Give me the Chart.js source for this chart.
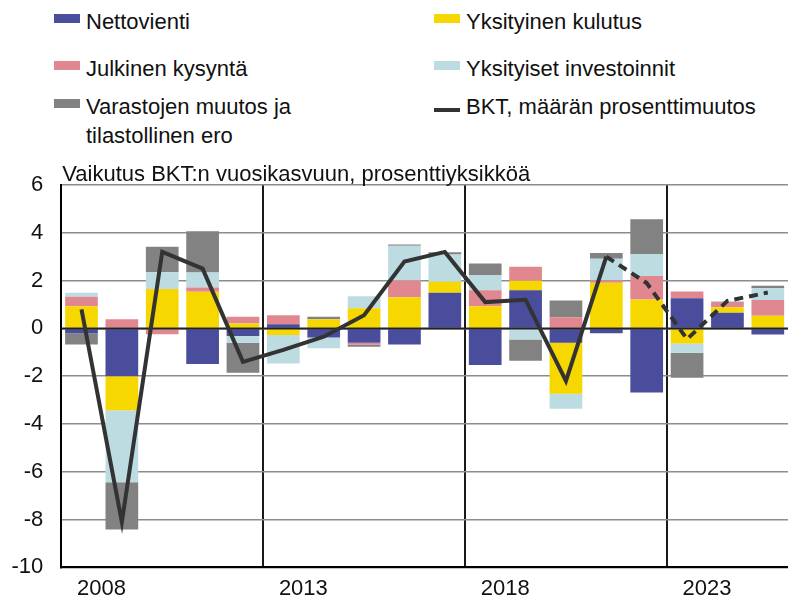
<!DOCTYPE html>
<html lang="fi">
<head>
  <meta charset="UTF-8" />
  <title>BKT:n kasvun osatekijät</title>
  <style>
    body {
      margin: 0;
      background: #fff;
      font-family: 'Liberation Sans', Arial, sans-serif;
    }

    .wrap {
      position: relative;
      width: 788px;
      height: 606px;
    }

    #chart {
      position: absolute;
      left: 0;
      top: 0;
    }

    .legend-text {
      position: absolute;
      font-size: 22px;
      line-height: 29px;
      color: #111;
      white-space: nowrap;
    }

    .swatch {
      position: absolute;
      width: 26px;
      height: 9px;
    }

    .swatch.line {
      height: 4px;
    }
  </style>
</head>
<body>
  <div class="wrap">
    <div id="legend"></div>
    <canvas id="chart" width="788" height="606"></canvas>
  </div>

  <script src="https://cdn.jsdelivr.net/npm/chart.js@4"></script>
  <script>
    // data
    const years = ['2008', '2009', '2010', '2011', '2012', '2013', '2014', '2015', '2016',
                   '2017', '2018', '2019', '2020', '2021', '2022', '2023', '2024', '2025'];
    const nettovienti = [-0.2, -2.0, 0.0, -1.49, -0.32, 0.17, -0.38, -0.6, -0.67,
                         1.49, -1.53, 1.6, -0.6, -0.2, -2.68, 1.26, 0.66, -0.25];
    const kulutus = [0.93, -1.42, 1.65, 1.53, 0.21, -0.28, 0.38, 0.84, 1.3,
                     0.46, 0.93, 0.39, -2.13, 1.91, 1.21, -0.63, 0.22, 0.53];
    const julkinen = [0.39, 0.38, -0.24, 0.18, 0.28, 0.38, 0.0, -0.07, 0.7,
                      0.0, 0.67, 0.59, 0.47, 0.1, 0.98, 0.28, 0.22, 0.66];
    const investoinnit = [0.17, -3.02, 0.7, 0.63, -0.28, -1.19, -0.45, 0.51, 1.46,
                          1.14, 0.63, -0.46, -0.63, 0.9, 0.92, -0.39, 0.05, 0.49];
    const varastot = [-0.47, -1.97, 1.07, 1.73, -1.26, 0.0, 0.11, -0.1, 0.05,
                      0.1, 0.49, -0.89, 0.7, 0.24, 1.46, -1.05, 0.0, 0.1];
    const bkt = [0.8, -8.1, 3.2, 2.5, -1.4, -0.9, -0.35, 0.55, 2.8,
                 3.2, 1.1, 1.2, -2.2, 3.0, 1.9, -0.45, 1.15, 1.5];
    const forecastFrom = 13; // dashed line from 2021 on

    const tickYears = ['2008', '2013', '2018', '2023'];
    const yTicks = [-10, -8, -6, -4, -2, 0, 2, 4, 6];

    const seriesNames = ['Nettovienti', 'Yksityinen kulutus', 'Julkinen kysyntä',
                         'Yksityiset investoinnit', 'Varastojen muutos ja\ntilastollinen ero',
                         'BKT, määrän prosenttimuutos'];
    const seriesColors = ['#4a4c9c', '#f7d700', '#e0878f', '#bcdce2', '#828282', '#333333'];
    const axisTitle = 'Vaikutus BKT:n vuosikasvuun, prosenttiyksikköä';

    const FONT = "'Liberation Sans', Arial, sans-serif";
    Chart.defaults.font.family = FONT;
    Chart.defaults.color = '#111';

    // legend in two columns, row by row
    const legend = document.getElementById('legend');
    const colX = [54, 434];
    const rowCapTop = [13, 60, 98];
    seriesNames.forEach((name, i) => {
      const col = i % 2, row = Math.floor(i / 2);
      const sw = document.createElement('div');
      const isLine = i === seriesNames.length - 1;
      sw.className = 'swatch' + (isLine ? ' line' : '');
      sw.style.left = colX[col] + 'px';
      sw.style.top = (rowCapTop[row] + (isLine ? 10 : 1)) + 'px';
      sw.style.background = seriesColors[i];
      legend.appendChild(sw);

      const txt = document.createElement('div');
      txt.className = 'legend-text';
      txt.style.left = (colX[col] + 32) + 'px';
      txt.style.top = (rowCapTop[row] - 6) + 'px';
      name.split('\n').forEach((part, k) => {
        if (k) txt.appendChild(document.createElement('br'));
        txt.appendChild(document.createTextNode(part));
      });
      legend.appendChild(txt);
    });

    const barData = [nettovienti, kulutus, julkinen, investoinnit, varastot];
    const datasets = barData.map((values, i) => ({
      type: 'bar',
      label: seriesNames[i].replace('\n', ' '),
      data: values,
      backgroundColor: seriesColors[i],
      borderWidth: 0,
      stack: 'osat',
      order: 1,
      categoryPercentage: 1,
      barPercentage: 0.81
    }));

    datasets.push({
      type: 'line',
      label: seriesNames[5],
      data: bkt,
      borderColor: seriesColors[5],
      borderWidth: 4,
      pointRadius: 0,
      tension: 0,
      stack: 'bkt',
      order: 0,
      segment: {
        borderDash: ctx => ctx.p0DataIndex >= forecastFrom ? [9, 6] : []
      }
    });

    // title above the plot, and the zero line over the bars but under the BKT line
    const extras = {
      id: 'extras',
      beforeDatasetDraw(chart, args) {
        if (args.meta.type !== 'line') return;
        const { ctx, chartArea, scales } = chart;
        const y0 = scales.y.getPixelForValue(0);
        ctx.save();
        ctx.strokeStyle = '#222';
        ctx.lineWidth = 2;
        ctx.beginPath();
        ctx.moveTo(chartArea.left, y0);
        ctx.lineTo(chartArea.right, y0);
        ctx.stroke();
        ctx.restore();
      },
      afterDraw(chart) {
        const { ctx, chartArea } = chart;
        ctx.save();
        ctx.font = '22px ' + FONT;
        ctx.fillStyle = '#111';
        ctx.textBaseline = 'alphabetic';
        ctx.fillText(axisTitle, chartArea.left + 1, chartArea.top - 4);
        ctx.restore();
      }
    };

    new Chart(document.getElementById('chart'), {
      data: { labels: years, datasets: datasets },
      options: {
        responsive: false,
        animation: false,
        layout: { autoPadding: false, padding: { top: 185, left: 0, right: 0, bottom: 0 } },
        plugins: {
          legend: { display: false },
          tooltip: { enabled: false }
        },
        scales: {
          x: {
            stacked: true,
            offset: true,
            afterFit: axis => { axis.height = 38.6; },
            grid: {
              offset: true,
              drawTicks: false,
              lineWidth: 2,
              color: ctx => [5, 10, 15].includes(ctx.index) ? '#1a1a1a' : 'rgba(0,0,0,0)'
            },
            border: { display: true, color: '#000', width: 2 },
            ticks: {
              autoSkip: false,
              maxRotation: 0,
              padding: 8,
              labelOffset: 20,
              font: { size: 22 },
              callback: function (value) {
                const label = this.getLabelForValue(value);
                return tickYears.includes(label) ? label : '';
              }
            }
          },
          y: {
            stacked: true,
            min: -10,
            max: 6,
            afterFit: axis => { axis.width = 61.3; },
            afterBuildTicks: axis => { axis.ticks = yTicks.map(v => ({ value: v })); },
            grid: { color: '#8c8c8c', lineWidth: 1.5, drawTicks: false },
            border: { display: true, color: '#000', width: 2 },
            ticks: { padding: 18, font: { size: 22 } }
          }
        }
      },
      plugins: [extras]
    });
  </script>
</body>
</html>
